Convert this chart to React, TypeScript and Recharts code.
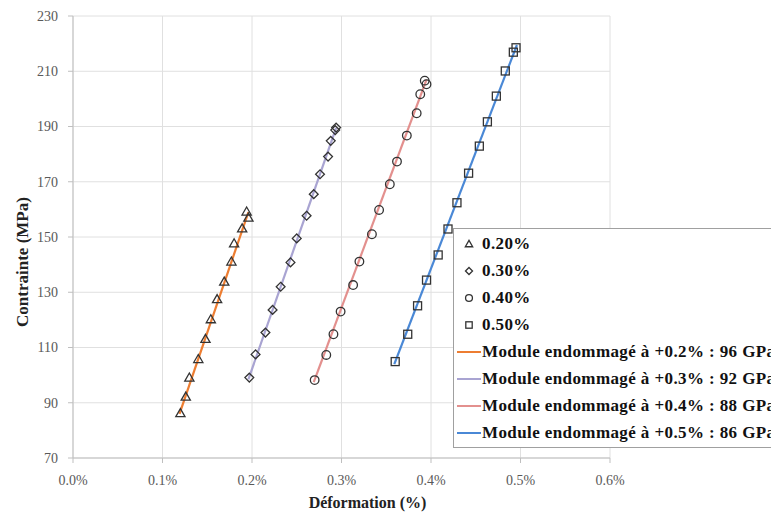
import React from "react";
import {
  ScatterChart, Scatter, XAxis, YAxis, CartesianGrid,
} from "recharts";

// Strain (%) / stress (MPa)
const strain020 = [0.120, 0.126, 0.130, 0.140, 0.148, 0.154, 0.161, 0.169, 0.177, 0.180, 0.189, 0.194, 0.196];
const stress020 = [86.2, 92.2, 99.1, 105.8, 113.1, 120.2, 127.5, 133.8, 141.1, 147.7, 153.1, 159.2, 157.0];

const strain030 = [0.197, 0.204, 0.215, 0.223, 0.232, 0.243, 0.250, 0.261, 0.269, 0.276, 0.285, 0.288, 0.293, 0.294];
const stress030 = [99.1, 107.5, 115.4, 123.6, 132.0, 140.8, 149.5, 157.7, 165.5, 172.7, 179.1, 184.8, 188.7, 189.6];

const strain040 = [0.270, 0.283, 0.291, 0.299, 0.313, 0.320, 0.334, 0.342, 0.354, 0.362, 0.373, 0.384, 0.388, 0.395, 0.393];
const stress040 = [98.2, 107.3, 114.8, 123.0, 132.6, 141.1, 151.0, 159.8, 169.1, 177.3, 186.7, 194.8, 201.7, 205.3, 206.6];

const strain050 = [0.360, 0.374, 0.385, 0.395, 0.408, 0.419, 0.429, 0.442, 0.454, 0.463, 0.473, 0.483, 0.492, 0.495];
const stress050 = [104.9, 114.8, 125.1, 134.4, 143.5, 152.9, 162.4, 173.1, 182.9, 191.7, 201.0, 210.1, 216.9, 218.5];

// linear fits (damaged modulus), end points
const fitStrain02 = [0.119, 0.196];
const fitStress02 = [86, 159];
const fitStrain03 = [0.196, 0.294];
const fitStress03 = [98.5, 189.5];
const fitStrain04 = [0.269, 0.395];
const fitStress04 = [97.5, 207];
const fitStrain05 = [0.359, 0.496];
const fitStress05 = [104, 219.5];

const xTicks = [0, 0.1, 0.2, 0.3, 0.4, 0.5, 0.6];
const yTicks = [70, 90, 110, 130, 150, 170, 190, 210, 230];

const seriesNames = ["0.20%", "0.30%", "0.40%", "0.50%"];
const fitNames = [
  "Module endommagé à +0.2% : 96 GPa",
  "Module endommagé à +0.3% : 92 GPa",
  "Module endommagé à +0.4% : 88 GPa",
  "Module endommagé à +0.5% : 86 GPa",
];

const zip = (xs: number[], ys: number[]) => xs.map((x, i) => ({ x, y: ys[i] }));

const FIT_COLORS = ["#ED7D31", "#A9A4D2", "#E3908E", "#4A88D6"];
const MARK = "#333333";
const FONT = "'Liberation Serif', 'Times New Roman', serif";

type Kind = "triangle" | "diamond" | "circle" | "square";
const KINDS: Kind[] = ["triangle", "diamond", "circle", "square"];

function Symbol({ kind, cx, cy, s = 1 }: { kind: Kind; cx: number; cy: number; s?: number }) {
  const common = { fill: "none", stroke: MARK, strokeWidth: 1.3 };
  if (kind === "triangle") {
    const h = 4.6 * s;
    return <polygon {...common} points={`${cx},${cy - h} ${cx + h},${cy + h * 0.75} ${cx - h},${cy + h * 0.75}`} />;
  }
  if (kind === "diamond") {
    const h = 4.4 * s;
    return <polygon {...common} points={`${cx},${cy - h} ${cx + h},${cy} ${cx},${cy + h} ${cx - h},${cy}`} />;
  }
  if (kind === "circle") return <circle {...common} cx={cx} cy={cy} r={4.3 * s} />;
  const h = 4 * s;
  return <rect {...common} x={cx - h} y={cy - h} width={2 * h} height={2 * h} />;
}

const markerShape = (kind: Kind) => (p: any) => <Symbol kind={kind} cx={p.cx} cy={p.cy} />;
const noShape = () => <g />;

function LegendBox() {
  const row: React.CSSProperties = { height: 27, display: "flex", alignItems: "center", whiteSpace: "nowrap" };
  return (
    <div style={{
      position: "absolute", left: 453, top: 228, width: 340,
      background: "#fff", border: "1px solid #a0a0a0", padding: "1px 0",
      fontFamily: FONT, fontWeight: "bold", fontSize: 17, letterSpacing: 0.4, color: "#111",
    }}>
      {seriesNames.map((n, i) => (
        <div key={n} style={row}>
          <svg width={28} height={16}>
            <Symbol kind={KINDS[i]} cx={15} cy={8} s={0.8} />
          </svg>
          <span>{n}</span>
        </div>
      ))}
      {fitNames.map((n, i) => (
        <div key={n} style={row}>
          <svg width={28} height={16}>
            <line x1={3} x2={27} y1={8} y2={8} stroke={FIT_COLORS[i]} strokeWidth={2} />
          </svg>
          <span>{n}</span>
        </div>
      ))}
    </div>
  );
}

export default function App() {
  const fits = [
    zip(fitStrain02, fitStress02),
    zip(fitStrain03, fitStress03),
    zip(fitStrain04, fitStress04),
    zip(fitStrain05, fitStress05),
  ];
  const points = [
    zip(strain020, stress020),
    zip(strain030, stress030),
    zip(strain040, stress040),
    zip(strain050, stress050),
  ];

  return (
    <div style={{ position: "absolute", left: 0, top: 0, width: 771, height: 515, overflow: "hidden", background: "#fff" }}>
      <ScatterChart width={771} height={515} margin={{ top: 16, right: 161, bottom: 7, left: 13 }}>
        <CartesianGrid stroke="#e0e0e0" />
        <XAxis
          type="number"
          dataKey="x"
          domain={[0, 0.6]}
          ticks={xTicks}
          interval={0}
          height={50}
          tickFormatter={(v: number) => `${v.toFixed(1)}%`}
          tick={{ fontFamily: FONT, fontSize: 14, fill: "#595959" }}
          tickLine={{ stroke: "#bfbfbf" }}
          axisLine={{ stroke: "#bfbfbf" }}
          tickSize={5}
          tickMargin={12}
          label={{
            content: (props: any) => {
              const vb = props.viewBox;
              return (
                <text x={vb.x + vb.width / 2 + 26} y={vb.y + 50} textAnchor="middle"
                  style={{ fontFamily: FONT, fontSize: 16, fontWeight: "bold", fill: "#222" }}>
                  Déformation (%)
                </text>
              );
            },
          }}
        />
        <YAxis
          type="number"
          dataKey="y"
          domain={[70, 230]}
          ticks={yTicks}
          interval={0}
          width={60}
          tick={{ fontFamily: FONT, fontSize: 14, fill: "#595959" }}
          tickLine={{ stroke: "#bfbfbf" }}
          axisLine={{ stroke: "#bfbfbf" }}
          tickSize={5}
          tickMargin={10}
          label={{
            content: (props: any) => {
              const vb = props.viewBox;
              const cx = vb.x + 9;
              const cy = vb.y + vb.height / 2 + 25;
              return (
                <text x={cx} y={cy} textAnchor="middle" dominantBaseline="central"
                  transform={`rotate(-90 ${cx} ${cy})`}
                  style={{ fontFamily: FONT, fontSize: 17, fontWeight: "bold", fill: "#222" }}>
                  Contrainte (MPa)
                </text>
              );
            },
          }}
        />
        {fits.map((d, i) => (
          <Scatter key={`fit${i}`} name={fitNames[i]} data={d} line={{ stroke: FIT_COLORS[i], strokeWidth: 2.2 }}
            shape={noShape} isAnimationActive={false} />
        ))}
        {points.map((d, i) => (
          <Scatter key={`pts${i}`} name={seriesNames[i]} data={d} shape={markerShape(KINDS[i])}
            isAnimationActive={false} />
        ))}
      </ScatterChart>
      <LegendBox />
    </div>
  );
}
